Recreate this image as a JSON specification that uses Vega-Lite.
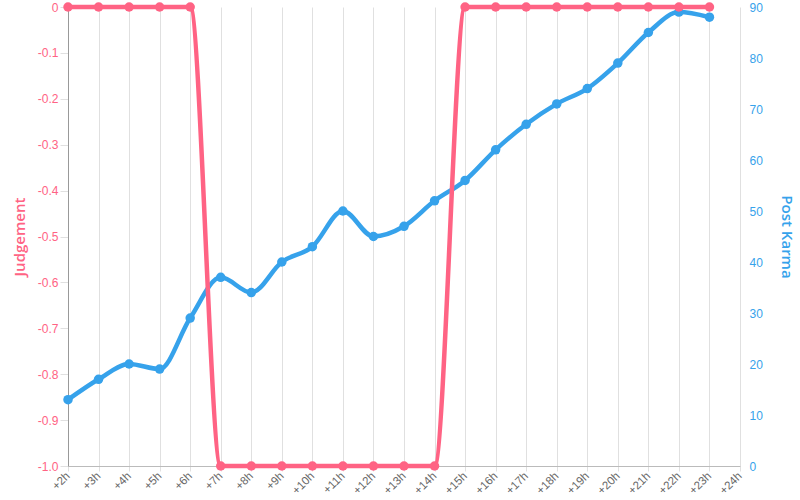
{
  "$schema": "https://vega.github.io/schema/vega-lite/v6.json",
  "width": 672,
  "height": 459,
  "autosize": "none",
  "padding": {"left": 68, "top": 7, "right": 60, "bottom": 34},
  "background": "white",
  "config": {
    "view": {"stroke": null},
    "axis": {"labelFont": "Liberation Sans", "titleFont": "Open Sans"}
  },
  "data": {
    "values": [
      {"h": 2, "judgement": 0, "karma": 13},
      {"h": 3, "judgement": 0, "karma": 17},
      {"h": 4, "judgement": 0, "karma": 20},
      {"h": 5, "judgement": 0, "karma": 19},
      {"h": 6, "judgement": 0, "karma": 29},
      {"h": 7, "judgement": -1, "karma": 37},
      {"h": 8, "judgement": -1, "karma": 34},
      {"h": 9, "judgement": -1, "karma": 40},
      {"h": 10, "judgement": -1, "karma": 43},
      {"h": 11, "judgement": -1, "karma": 50},
      {"h": 12, "judgement": -1, "karma": 45},
      {"h": 13, "judgement": -1, "karma": 47},
      {"h": 14, "judgement": -1, "karma": 52},
      {"h": 15, "judgement": 0, "karma": 56},
      {"h": 16, "judgement": 0, "karma": 62},
      {"h": 17, "judgement": 0, "karma": 67},
      {"h": 18, "judgement": 0, "karma": 71},
      {"h": 19, "judgement": 0, "karma": 74},
      {"h": 20, "judgement": 0, "karma": 79},
      {"h": 21, "judgement": 0, "karma": 85},
      {"h": 22, "judgement": 0, "karma": 89},
      {"h": 23, "judgement": 0, "karma": 88}
    ]
  },
  "encoding": {
    "x": {
      "field": "h",
      "type": "quantitative",
      "scale": {"domain": [2, 24], "nice": false, "zero": false},
      "axis": {
        "title": null,
        "values": [2,3,4,5,6,7,8,9,10,11,12,13,14,15,16,17,18,19,20,21,22,23,24],
        "labelExpr": "'+' + datum.value + 'h'",
        "labelAngle": -45,
        "labelAlign": "right",
        "labelBaseline": "middle",
        "labelFontSize": 11.5,
        "labelColor": "#666666",
        "labelPadding": 3,
        "tickSize": 5,
        "tickColor": "#e0e0e0",
        "domainColor": "#bbbbbb",
        "gridColor": "#e0e0e0",
        "labelOverlap": false,
        "labelFlush": false,
        "labelBound": false
      }
    }
  },
  "layer": [
    {
      "mark": {"type": "line", "interpolate": "monotone", "color": "#36a2eb", "strokeWidth": 4.5, "point": {"filled": true, "size": 90, "color": "#36a2eb", "opacity": 1}},
      "encoding": {
        "y": {
          "field": "karma",
          "type": "quantitative",
          "scale": {"domain": [0, 90], "nice": false},
          "axis": {
            "orient": "right",
            "title": "Post Karma",
            "titleColor": "#36a2eb",
            "titleFontSize": 15,
            "titleFontWeight": 600,
            "titlePadding": 16,
            "values": [0,10,20,30,40,50,60,70,80,90],
            "labelColor": "#36a2eb",
            "labelFontSize": 12,
            "labelPadding": 9,
            "ticks": false,
            "grid": false,
            "domain": false
          }
        }
      }
    },
    {
      "mark": {"type": "line", "interpolate": "monotone", "color": "#ff6384", "strokeWidth": 4.5, "point": {"filled": true, "size": 90, "color": "#ff6384", "opacity": 1}},
      "encoding": {
        "y": {
          "field": "judgement",
          "type": "quantitative",
          "scale": {"domain": [-1, 0], "nice": false},
          "axis": {
            "orient": "left",
            "title": "Judgement",
            "titleColor": "#ff6384",
            "titleFontSize": 15,
            "titleFontWeight": 600,
            "titlePadding": 10,
            "values": [0,-0.1,-0.2,-0.3,-0.4,-0.5,-0.6,-0.7,-0.8,-0.9,-1],
            "labelExpr": "datum.value == 0 ? '0' : '-' + format(-datum.value, '.1f')",
            "labelColor": "#ff6384",
            "labelFontSize": 12,
            "labelPadding": 2,
            "tickSize": 8,
            "tickColor": "#e0e0e0",
            "gridColor": "#e0e0e0",
            "domainColor": "#999999"
          }
        }
      }
    }
  ],
  "resolve": {"scale": {"y": "independent"}}
}
